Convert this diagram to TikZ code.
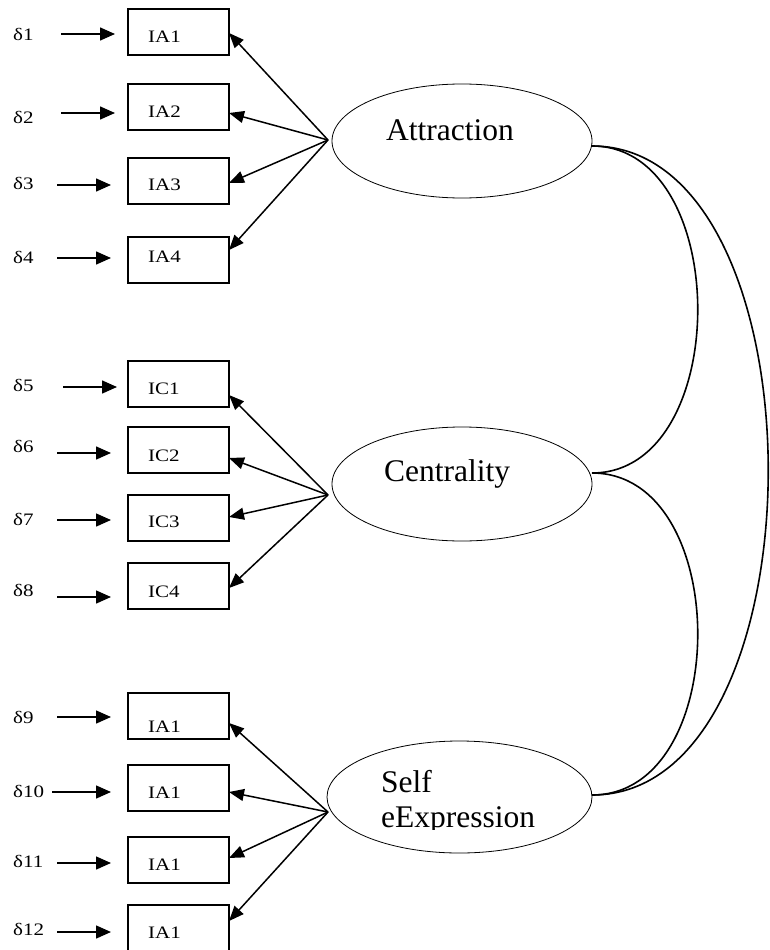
\documentclass[tikz,border=0pt]{standalone}
\usepackage{fontspec}
\setmainfont{Liberation Serif}
\newfontfamily\widefont[FakeStretch=1.2]{Liberation Serif}
\usetikzlibrary{arrows.meta,shapes.geometric}

\tikzset{
  obsbox/.style={draw, line width=1.2pt, minimum width=101pt, minimum height=46pt,
    inner sep=0pt, outer sep=0pt},
  smalltxt/.style={font=\widefont\fontsize{17.5}{20}\selectfont, inner sep=0pt,
    anchor=base west},
  bigtxt/.style={font=\fontsize{31.5}{35}\selectfont, inner sep=0pt, anchor=base west},
  latent/.style={draw, ellipse, line width=0.8pt, inner sep=0pt, outer sep=0pt},
  errarrow/.style={line width=1.5pt, -{Triangle[length=15pt,width=13pt]}},
  loadarrow/.style={line width=1.5pt, -{Triangle[length=15pt,width=12pt]}},
  corr/.style={line width=1.6pt},
}

\begin{document}
\begin{tikzpicture}[x=1pt,y=-1pt]
\useasboundingbox (0,0) rectangle (769,950);
\clip (0,0) rectangle (769,950);

% latent factors
\node[latent, minimum width=260pt, minimum height=114pt] (attr) at (462,141) {};
\node[latent, minimum width=260pt, minimum height=114pt] (cent) at (462,484) {};
\node[latent, minimum width=265pt, minimum height=112pt] (self) at (459.5,797) {};

\node[bigtxt] (attrlbl) at (386,140) {Attraction};
\node[bigtxt] (centlbl) at (384,481) {Centrality};
\begin{scope}
  \clip (0,0) rectangle (769,829);
  \node[bigtxt] (selflbl1) at (381,792) {Self};
  \node[bigtxt] (selflbl2) at (381,827) {eExpression};
\end{scope}

% points where the loadings leave each factor
\coordinate (ca) at (328,140);
\coordinate (cc) at (328,495);
\coordinate (cs) at (328,812);

% indicators, error terms and loadings
\foreach \i/\cy/\tb/\db/\ay/\xa/\xb/\ys/\lbl/\g in {
  1/32/43/41/34/61/115/-1/IA1/ca,
  2/107/117/123/113/61/115/-6/IA2/ca,
  3/181/190/189/185/57/111/-2/IA3/ca,
  4/260/262/263/258/57/111/10/IA4/ca,
  5/384/394/391/387/63/117/-11/IC1/cc,
  6/450/461/452/453/57/111/-8/IC2/cc,
  7/518/527/525/520/57/111/1/IC3/cc,
  8/586/597/596/597/57/111/-2/IC4/cc,
  9/716/732/723/717/57/111/-7/IA1/cs,
  10/788/798/797/792/52/111/-4/IA1/cs,
  11/860/870/867/863/57/111/2/IA1/cs,
  12/928/938/935/932/57/111/7/IA1/cs}
{
  \node[obsbox] (b\i) at (178.5,\cy) {};
  \node[smalltxt] (t\i) at (148,\tb) {\lbl};
  \node[smalltxt] (d\i) at (13,\db) {δ\i};
  \coordinate (s\i) at (\xa,\ay);
  \coordinate (e\i) at (\xb,\ay);
  \draw[errarrow] (s\i) -- (e\i);
  \draw[loadarrow] (\g) -- ([yshift=\ys pt]b\i.east);
}

% factor correlations
\coordinate (pa) at ([yshift=-5pt]attr.east);
\coordinate (pc) at ([yshift=11pt]cent.east);
\coordinate (ps) at ([yshift=2pt]self.east);
\draw[corr] (pa) .. controls +(141,0) and +(141,0) .. (pc);
\draw[corr] (pc) .. controls +(141,0) and +(141,0) .. (ps);
\draw[corr] (pa) .. controls +(235,0) and +(235,0) .. (ps);
\end{tikzpicture}
\end{document}
